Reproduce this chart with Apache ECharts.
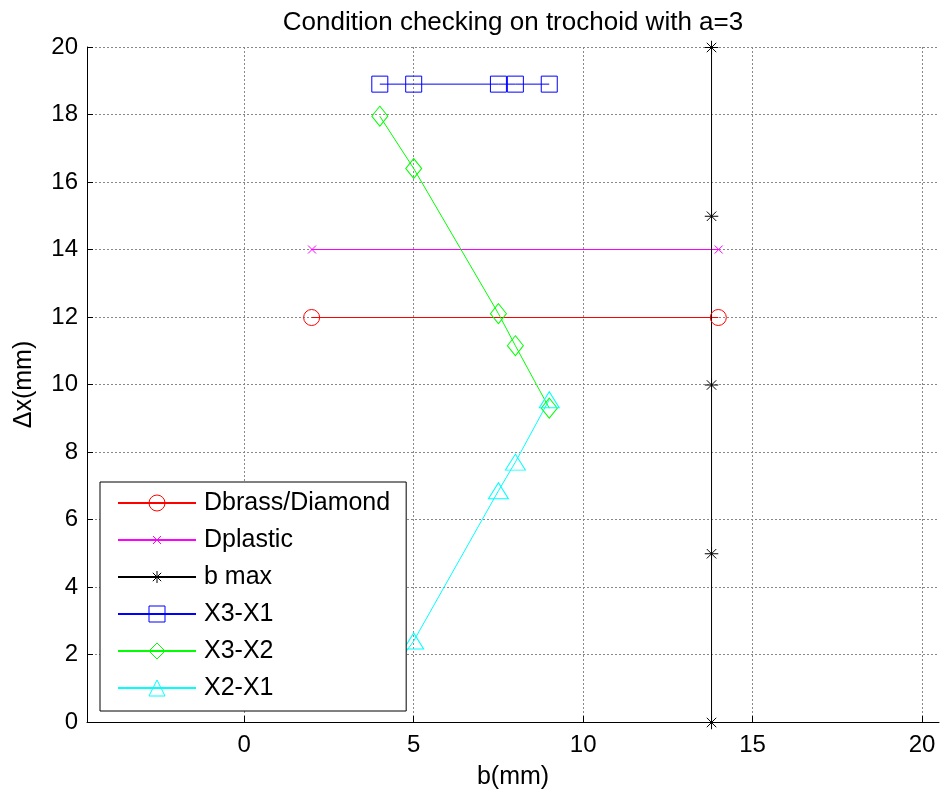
<!DOCTYPE html>
<html>
<head>
<meta charset="utf-8">
<script src="https://cdn.jsdelivr.net/npm/echarts@6/dist/echarts.min.js"></script>
<style>html,body{margin:0;padding:0;background:#fff;}#c{width:940px;height:798px;}</style>
</head>
<body>
<div id="c"></div>
<script>
// ---- data ----
const xTicks = [0, 5, 10, 15, 20];
const dBrassX = [2, 14];
const dBrassY = [12, 12];
const dPlasticX = [2, 14];
const dPlasticY = [14, 14];
const bMaxX = [13.8, 13.8, 13.8, 13.8, 13.8];
const bMaxY = [0, 5, 10, 15, 20];
const bX = [4, 5, 7.5, 8, 9];
const x3x1 = [18.9, 18.9, 18.9, 18.9, 18.9];
const x3x2 = [17.95, 16.4, 12.1, 11.15, 9.3];
const x2x1 = [1.0, 2.4, 6.85, 7.7, 9.55];
const seriesNames = ['Dbrass/Diamond', 'Dplastic', 'b max', 'X3-X1', 'X3-X2', 'X2-X1'];
const xRange = [-4.64, 20.5];
const yRange = [0, 20];

function pairs(xs, ys) { return xs.map((x, i) => [x, ys[i]]); }

const FONT = 'Liberation Sans, Arial, sans-serif';
const xPath = 'path://M0,0M16,16M4,4L12,12M12,4L4,12';
const starPath = 'path://M0,0M16,16M8,2L8,14M2,8L14,8M3.8,3.8L12.2,12.2M12.2,3.8L3.8,12.2';
const none = 'rgba(0,0,0,0)';

function mk(name, data, color, symbol, size, gi) {
  return {
    name: name, type: 'line', data: data,
    xAxisIndex: gi, yAxisIndex: gi,
    symbol: symbol, symbolSize: size,
    lineStyle: { color: color, width: 1 },
    itemStyle: { color: none, borderColor: color, borderWidth: 1 },
    emphasis: { disabled: true },
    animation: false
  };
}

const gridLine = { show: true, lineStyle: { color: '#888', type: [2, 2], width: 1 } };

const chart = echarts.init(document.getElementById('c'), null, { renderer: 'canvas' });
chart.setOption({
  animation: false,
  backgroundColor: '#fff',
  title: {
    text: 'Condition checking on trochoid with a=3',
    left: 513, top: 10, textAlign: 'center', padding: 0,
    textStyle: { fontFamily: FONT, fontSize: 26, fontWeight: 'normal', color: '#000' }
  },
  grid: [
    { left: 87, top: 47, right: 1, bottom: 76, containLabel: false },
    // same plot box, nudged half a pixel so the long straight lines render crisp
    { left: 86.6, top: 47.5, right: 1.4, bottom: 75.5, containLabel: false }
  ],
  xAxis: [{
    type: 'value', min: xRange[0], max: xRange[1], gridIndex: 0,
    name: 'b(mm)', nameLocation: 'middle', nameGap: 43,
    nameTextStyle: { fontFamily: FONT, fontSize: 25, color: '#000' },
    axisLine: { show: true, onZero: false, lineStyle: { color: '#000', width: 1 } },
    axisTick: { show: true, inside: true, length: 6, customValues: xTicks, lineStyle: { color: '#000' } },
    axisLabel: { customValues: xTicks, margin: 11, fontFamily: FONT, fontSize: 24, color: '#000' },
    splitLine: gridLine
  }, {
    type: 'value', min: xRange[0], max: xRange[1], gridIndex: 1, show: false
  }],
  yAxis: [{
    type: 'value', min: yRange[0], max: yRange[1], interval: 2, gridIndex: 0,
    name: 'Δx(mm)', nameLocation: 'middle', nameGap: 50,
    nameTextStyle: { fontFamily: FONT, fontSize: 25, color: '#000' },
    axisLine: { show: true, onZero: false, lineStyle: { color: '#000', width: 1 } },
    axisTick: { show: true, inside: true, length: 6, lineStyle: { color: '#000' } },
    axisLabel: { margin: 9, fontFamily: FONT, fontSize: 24, color: '#000' },
    splitLine: gridLine
  }, {
    type: 'value', min: yRange[0], max: yRange[1], gridIndex: 1, show: false
  }],
  legend: {
    orient: 'vertical', left: 100, top: 482,
    data: seriesNames,
    padding: [8, 16, 10, 17],
    itemWidth: 78, itemHeight: 20, itemGap: 11,
    backgroundColor: '#fff', borderColor: '#000', borderWidth: 1, borderRadius: 0,
    itemStyle: { borderWidth: 1 },
    selectedMode: false,
    textStyle: { fontFamily: FONT, fontSize: 25, lineHeight: 26, color: '#000', padding: [0, 0, 0, 3] }
  },
  series: [
    mk(seriesNames[0], pairs(dBrassX, dBrassY), '#ff0000', 'circle', 16, 1),
    mk(seriesNames[1], pairs(dPlasticX, dPlasticY), '#ff00ff', xPath, 16, 0),
    mk(seriesNames[2], pairs(bMaxX, bMaxY), '#000000', starPath, 18, 1),
    mk(seriesNames[3], pairs(bX, x3x1), '#0000ff', 'rect', 16, 0),
    mk(seriesNames[4], pairs(bX, x3x2), '#00ff00', 'diamond', [16, 20], 0),
    mk(seriesNames[5], pairs(bX, x2x1), '#00ffff', 'triangle', [20, 16], 0)
  ]
});
</script>
</body>
</html>
